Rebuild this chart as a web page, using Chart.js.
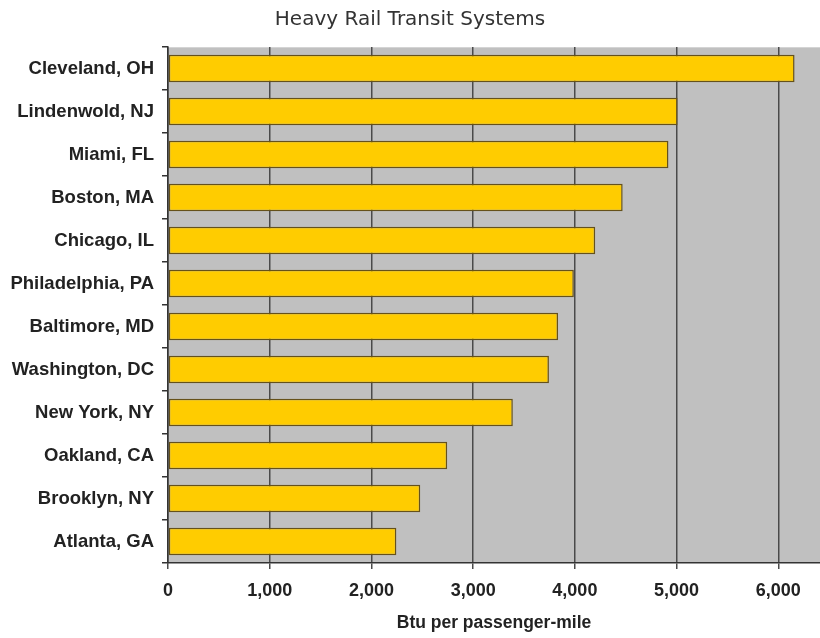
<!DOCTYPE html>
<html>
<head>
<meta charset="utf-8">
<script src="https://cdn.jsdelivr.net/npm/chart.js@4/dist/chart.umd.min.js"></script>
<style>
html,body{margin:0;padding:0;background:#fff;}
#wrap{width:820px;height:638px;position:relative;}
</style>
</head>
<body>
<div id="wrap"><canvas id="c"></canvas></div>
<script>
const cities = ["Cleveland, OH","Lindenwold, NJ","Miami, FL","Boston, MA","Chicago, IL","Philadelphia, PA","Baltimore, MD","Washington, DC","New York, NY","Oakland, CA","Brooklyn, NY","Atlanta, GA"];
const btuPerPassengerMile = [6160,5010,4920,4470,4200,3990,3835,3745,3390,2745,2480,2245];
const xTickValues = [0,1000,2000,3000,4000,5000,6000];
const chartTitle = "Heavy Rail Transit Systems";
const xAxisTitle = "Btu per passenger-mile";

const plotBg = {
  id:'plotBg',
  beforeDraw(chart){
    const {ctx, chartArea:a} = chart;
    ctx.save();
    ctx.fillStyle = '#c0c0c0';
    ctx.fillRect(a.left, a.top, a.right - a.left, a.bottom - a.top);
    ctx.strokeStyle = '#d4d4d4';
    ctx.lineWidth = 1;
    ctx.beginPath();
    ctx.moveTo(a.left, a.top + 0.5);
    ctx.lineTo(a.right, a.top + 0.5);
    ctx.stroke();
    ctx.restore();
  }
};

new Chart(document.getElementById('c'), {
  type: 'bar',
  data: {
    labels: cities,
    datasets: [{
      data: btuPerPassengerMile,
      backgroundColor: '#ffcc00',
      borderColor: '#65511a',
      borderWidth: 1.5,
      borderSkipped: false,
      categoryPercentage: 0.8,
      barPercentage: 0.8
    }]
  },
  options: {
    indexAxis: 'y',
    responsive: true,
    maintainAspectRatio: false,
    animation: false,
    layout: { padding: { left: 0, right: 0, top: 0, bottom: 0 } },
    plugins: {
      legend: { display: false },
      tooltip: { enabled: false },
      title: {
        display: true,
        text: chartTitle,
        color: '#333',
        font: { family: 'DejaVu Sans', size: 20, weight: 'normal' },
        padding: { top: 8, bottom: 15 }
      }
    },
    scales: {
      x: {
        type: 'linear',
        min: 0,
        max: 6410,
        afterBuildTicks(axis){ axis.ticks = xTickValues.map(v => ({value: v})); },
        afterFit(s){ s.height = 75; },
        grid: { color: '#4a4a4a', lineWidth: 1.5, tickLength: 6, drawTicks: true },
        border: { color: '#333', width: 1.5 },
        ticks: {
          color: '#222',
          padding: 11,
          font: { family: 'Liberation Sans', size: 18, weight: 'bold' },
          callback: v => Number(v).toLocaleString('en-US')
        },
        title: {
          display: true,
          text: xAxisTitle,
          color: '#222',
          font: { family: 'Liberation Sans', size: 17.5, weight: 'bold' },
          padding: { top: 13 }
        }
      },
      y: {
        afterFit(s){ s.width = 168; },
        grid: { drawOnChartArea: false, color: '#333', tickLength: 6, lineWidth: 1.5 },
        border: { color: '#333', width: 1.5 },
        ticks: {
          color: '#222',
          padding: 8,
          font: { family: 'Liberation Sans', size: 18.5, weight: 'bold' }
        }
      }
    }
  },
  plugins: [plotBg]
});
</script>
</body>
</html>
